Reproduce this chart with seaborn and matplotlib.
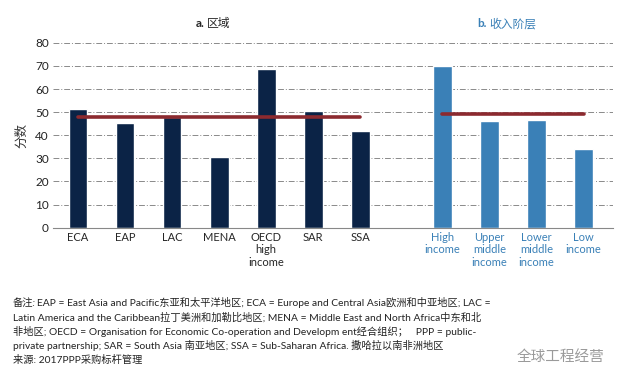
import numpy as np
import pandas as pd
import seaborn as sns
from matplotlib import pyplot as plt

# data
regions = ['ECA', 'EAP', 'LAC', 'MENA', 'OECD\nhigh\nincome', 'SAR', 'SSA']
region_scores = [51.5, 45.5, 48.0, 30.5, 68.7, 50.5, 42.0]
income_groups = ['High\nincome', 'Upper\nmiddle\nincome', 'Lower\nmiddle\nincome', 'Low\nincome']
income_scores = [70.0, 46.2, 46.6, 34.0]
region_avg = 47.8
income_avg = 49.2
yticks = [0, 10, 20, 30, 40, 50, 60, 70, 80]

note_lines = [
    'EAP = East Asia and Pacific东亚和太平洋地区; ECA = Europe and Central Asia欧洲和中亚地区; LAC =',
    'Latin America and the Caribbean拉丁美洲和加勒比地区; MENA = Middle East and North Africa中东和北',
    '非地区; OECD = Organisation for Economic Co-operation and Developm ent经合组织；   PPP = public-',
    'private partnership; SAR = South Asia 南亚地区; SSA = Sub-Saharan Africa. 撒哈拉以南非洲地区',
]
source_text = '来源: 2017PPP采购标杆管理'

navy = '#0b2346'
blue = '#3a80b7'
red = '#8c2a2f'

sns.set_style('white')
plt.rcParams['font.family'] = ['Lato', 'Noto Sans CJK SC', 'DejaVu Sans']

# positions: regions then a gap, then income groups
region_pos = np.arange(len(regions), dtype=float)
income_pos = np.arange(len(income_groups)) + len(regions) + 0.75

df_r = pd.DataFrame({'x': region_pos, 'score': region_scores})
df_i = pd.DataFrame({'x': income_pos, 'score': income_scores})

fig = plt.figure(figsize=(6.25, 3.82), dpi=100)
ax = fig.add_axes([0.085, 0.404, 0.896, 0.484])

sns.barplot(data=df_r, x='x', y='score', native_scale=True, width=0.4,
            color=navy, saturation=1, ax=ax, zorder=2)
sns.barplot(data=df_i, x='x', y='score', native_scale=True, width=0.4,
            color=blue, saturation=1, ax=ax, zorder=2)

# average lines
ax.plot([region_pos[0], region_pos[-1]], [region_avg, region_avg], color=red, lw=2.6, zorder=3)
ax.plot([income_pos[0], income_pos[-1]], [income_avg, income_avg], color=red, lw=2.6, zorder=3)

ax.set_xlim(-0.53, 11.38)
ax.set_ylim(0, 80)
ax.set_yticks(yticks)
ax.set_yticklabels([str(t) for t in yticks], fontsize=8.5, color='#222222')
ax.set_xticks(np.concatenate([region_pos, income_pos]))
ax.set_xticklabels(regions + income_groups, fontsize=8, linespacing=1.15)
for lbl in ax.get_xticklabels()[len(regions):]:
    lbl.set_color(blue)
ax.tick_params(axis='both', length=0, pad=3)
ax.grid(axis='y', color='#8a8a8a', lw=0.7, linestyle=(0, (6, 2, 1, 2)), zorder=0)
ax.set_axisbelow(True)
for s in ['top', 'right', 'left']:
    ax.spines[s].set_visible(False)
ax.spines['bottom'].set_color('#888888')
ax.spines['bottom'].set_linewidth(0.8)
ax.set_xlabel('')
ax.set_ylabel('分数', fontsize=9, color='#333333', labelpad=6)

# panel titles: bold letter + plain CJK text
trans = ax.get_xaxis_transform()
ax.text(np.mean(region_pos) - 0.3, 1.105, 'a.', transform=trans, ha='right', va='center',
        fontsize=8.5, fontweight='bold')
ax.text(np.mean(region_pos) - 0.25, 1.105, '区域', transform=trans, ha='left', va='center',
        fontsize=8.5)
ax.text(np.mean(income_pos) - 0.55, 1.105, 'b.', transform=trans, ha='right', va='center',
        fontsize=8.5, fontweight='bold', color=blue)
ax.text(np.mean(income_pos) - 0.5, 1.105, '收入阶层', transform=trans, ha='left', va='center',
        fontsize=8.5, color=blue)

# notes
y0 = 1 - 303 / 382
step = 14.2 / 382
fs = 7.35
fig.text(13 / 625, y0, '备注:', fontsize=fs, style='italic', va='center', color='#222222')
fig.text(37 / 625, y0, note_lines[0], fontsize=fs, va='center', color='#222222')
for i, line in enumerate(note_lines[1:], start=1):
    fig.text(13 / 625, y0 - i * step, line, fontsize=fs, va='center', color='#222222')
fig.text(13 / 625, y0 - 4 * step, source_text, fontsize=fs, va='center', color='#222222')
fig.text(517 / 625, 1 - 357 / 382, '全球工程经营', fontsize=10.5, va='center', color='#9a9a9a')

fig.savefig('out.png', dpi=100)
